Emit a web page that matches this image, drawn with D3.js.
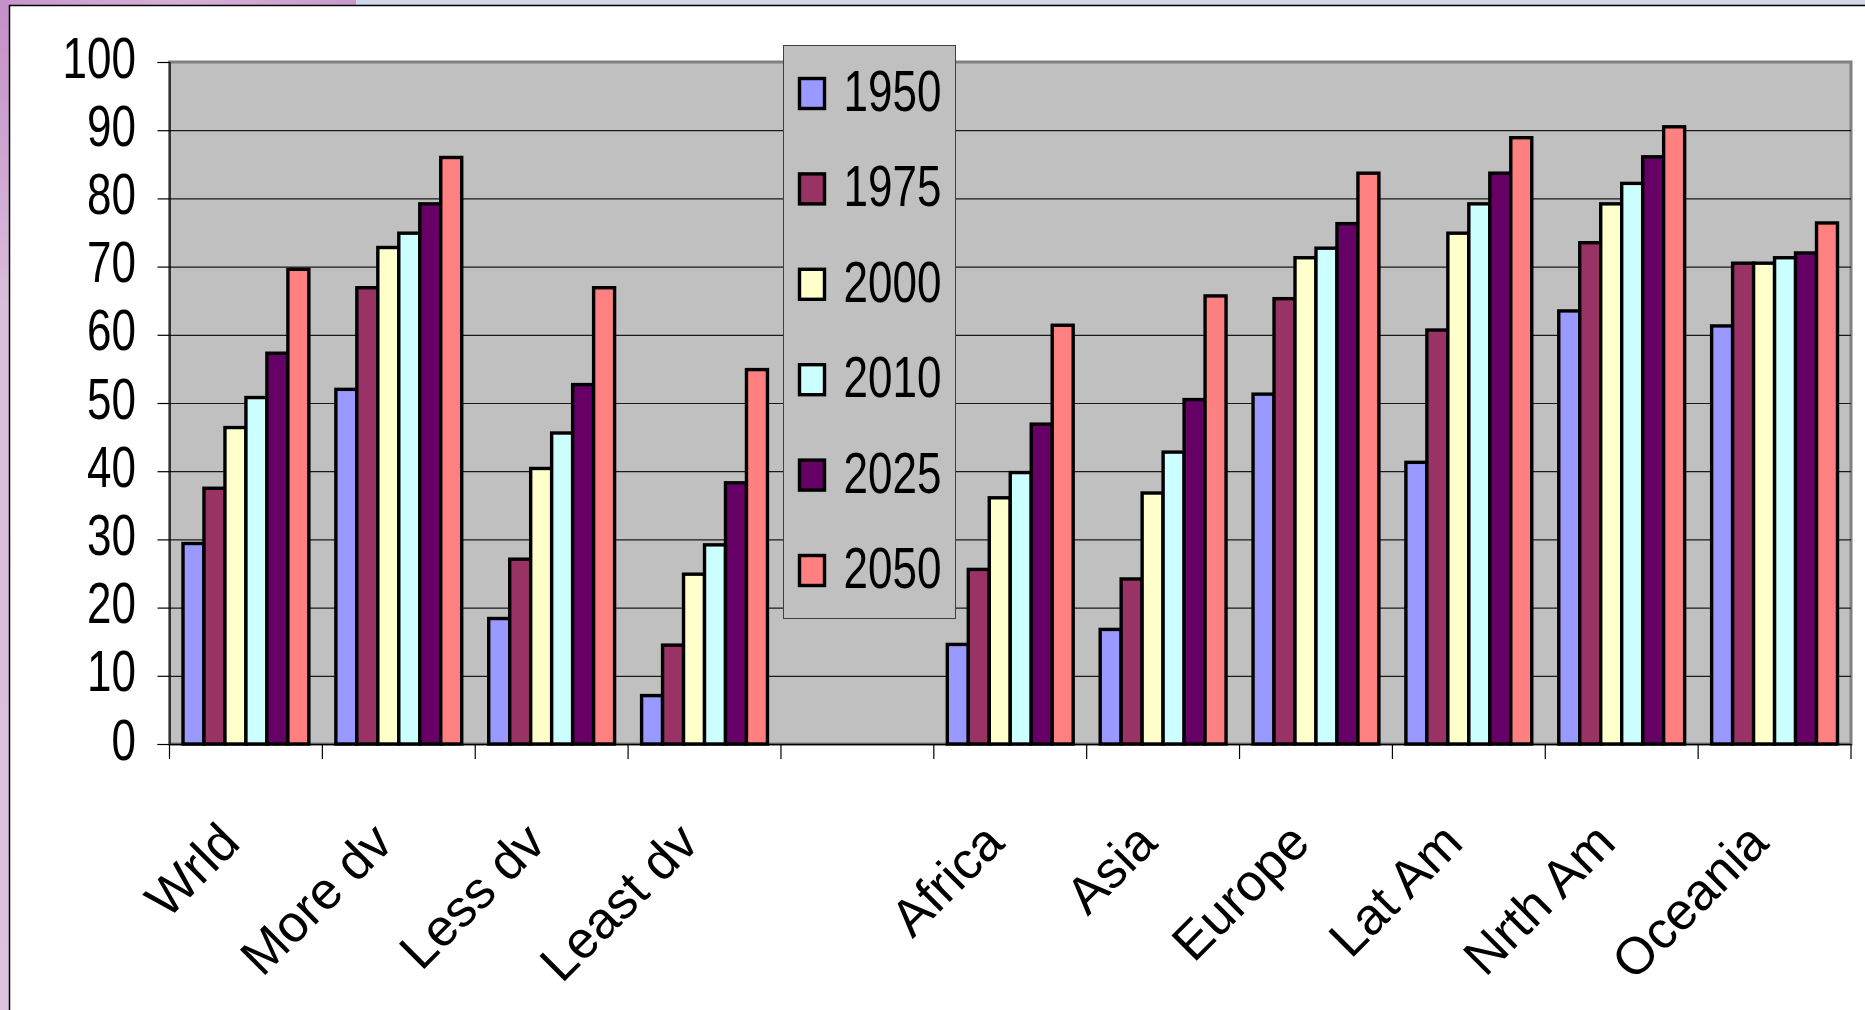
<!DOCTYPE html>
<html>
<head>
<meta charset="utf-8">
<script src="https://cdn.jsdelivr.net/npm/d3@7"></script>
<style>
  html, body { margin: 0; padding: 0; background: #fff; }
  svg { display: block; }
  text { font-family: "Liberation Sans", Arial, sans-serif; fill: #000; }
</style>
</head>
<body>
<svg width="1865" height="1010"></svg>
<script>
// categories (the empty one is the blank slot in the middle)
var categories = ["Wrld", "More dv", "Less dv", "Least dv", "", "Africa", "Asia", "Europe", "Lat Am", "Nrth Am", "Oceania"];
var years = ["1950", "1975", "2000", "2010", "2025", "2050"];
var colors = ["#9999FF", "#993366", "#FFFFCC", "#CCFFFF", "#660066", "#FF8080"];
var yTicks = [0, 10, 20, 30, 40, 50, 60, 70, 80, 90, 100];

// percent urban
var v1950 = [29.4, 52.0, 18.4, 7.1, null, 14.6, 16.8, 51.3, 41.3, 63.5, 61.3];
var v1975 = [37.5, 66.9, 27.1, 14.5, null, 25.6, 24.2, 65.3, 60.7, 73.5, 70.5];
var v2000 = [46.4, 72.8, 40.4, 24.9, null, 36.1, 36.8, 71.3, 74.9, 79.2, 70.5];
var v2010 = [50.8, 74.9, 45.6, 29.2, null, 39.8, 42.8, 72.7, 79.2, 82.2, 71.3];
var v2025 = [57.3, 79.2, 52.7, 38.3, null, 46.9, 50.5, 76.3, 83.7, 86.1, 72.0];
var v2050 = [69.6, 86.0, 66.9, 54.9, null, 61.4, 65.7, 83.7, 88.9, 90.5, 76.4];
var series = [v1950, v1975, v2000, v2010, v2025, v2050];

var svg = d3.select("svg");

var plotLeft = 169.5, plotRight = 1851, plotTop = 62, plotBottom = 744;

// page background bits (slide frame)
var defs = svg.append("defs");
var g1 = defs.append("linearGradient").attr("id", "side").attr("x1", 0).attr("y1", 0).attr("x2", 0).attr("y2", 1);
g1.append("stop").attr("offset", "0").attr("stop-color", "#c48ec8");
g1.append("stop").attr("offset", "0.3").attr("stop-color", "#d9bddb");
g1.append("stop").attr("offset", "1").attr("stop-color", "#dcc2dc");
var g2 = defs.append("linearGradient").attr("id", "topbar").attr("x1", 0).attr("y1", 0).attr("x2", 1).attr("y2", 0);
g2.append("stop").attr("offset", "0").attr("stop-color", "#c994cc");
g2.append("stop").attr("offset", "0.5").attr("stop-color", "#d6b0d8");
g2.append("stop").attr("offset", "1").attr("stop-color", "#c99acc");

svg.append("rect").attr("x", 0).attr("y", 0).attr("width", 1865).attr("height", 5).attr("fill", "#cfd6e8");
svg.append("rect").attr("x", 0).attr("y", 0).attr("width", 356).attr("height", 5).attr("fill", "url(#topbar)");
svg.append("rect").attr("x", 0).attr("y", 0).attr("width", 9).attr("height", 1010).attr("fill", "url(#side)");
svg.append("line").attr("x1", 9).attr("x2", 1865).attr("y1", 5.5).attr("y2", 5.5).attr("stroke", "#000").attr("stroke-width", 1.5);
svg.append("line").attr("x1", 9.5).attr("x2", 9.5).attr("y1", 5).attr("y2", 1010).attr("stroke", "#000").attr("stroke-width", 1.5);

// scales
var x = d3.scaleBand().domain(categories).range([plotLeft, plotRight]).padding(0);
var xInner = d3.scaleBand().domain(years).range([13.5, x.bandwidth() - 13.5]).padding(0);
var y = d3.scaleLinear().domain([0, 100]).range([plotBottom, plotTop]);

// plot area
svg.append("rect")
    .attr("x", plotLeft).attr("y", plotTop)
    .attr("width", plotRight - plotLeft).attr("height", plotBottom - plotTop)
    .attr("fill", "#C0C0C0")
    .attr("stroke", "#808080")
    .attr("stroke-width", 3);

// gridlines
svg.append("g")
    .selectAll("line")
    .data(yTicks.slice(1, -1))
    .enter().append("line")
    .attr("x1", plotLeft).attr("x2", plotRight)
    .attr("y1", function(d) { return y(d) + 0.5; })
    .attr("y2", function(d) { return y(d) + 0.5; })
    .attr("stroke", "#1a1a1a")
    .attr("stroke-width", 1.2);

// bars
var groups = svg.append("g")
    .selectAll("g")
    .data(years)
    .enter().append("g")
    .attr("fill", function(d, i) { return colors[i]; });

groups.selectAll("rect")
    .data(function(yr, i) {
        return categories.map(function(c, j) { return { cat: c, year: yr, value: series[i][j] }; })
            .filter(function(d) { return d.value != null; });
    })
    .enter().append("rect")
    .attr("x", function(d) { return x(d.cat) + xInner(d.year); })
    .attr("y", function(d) { return y(d.value); })
    .attr("width", xInner.bandwidth())
    .attr("height", function(d) { return y(0) - y(d.value); })
    .attr("stroke", "#000")
    .attr("stroke-width", 3.4)
    .attr("stroke-linejoin", "miter");

// y axis
var yAxis = svg.append("g")
    .attr("transform", "translate(" + plotLeft + ",0)")
    .call(d3.axisLeft(y).tickValues(yTicks).tickSize(12).tickFormat(""));
yAxis.select(".domain").attr("stroke", "#000").attr("stroke-width", 1.2);
yAxis.selectAll(".tick line").attr("stroke", "#000").attr("stroke-width", 1.2);

svg.append("g")
    .selectAll("text")
    .data(yTicks)
    .enter().append("text")
    .attr("transform", function(d) { return "translate(136," + (y(d) - 5) + ") scale(1,1.3)"; })
    .attr("text-anchor", "end")
    .attr("dy", "0.36em")
    .style("font-size", "44px")
    .text(function(d) { return d; });

// x axis
var xAxis = svg.append("g")
    .attr("transform", "translate(0," + plotBottom + ")")
    .call(d3.axisBottom(x).tickSize(0).tickFormat(""));
xAxis.select(".domain").attr("stroke", "#000").attr("stroke-width", 1.5);

var bounds = categories.map(function(c) { return x(c); }).concat([plotRight]);
svg.append("g")
    .selectAll("line")
    .data(bounds)
    .enter().append("line")
    .attr("x1", function(d) { return d; }).attr("x2", function(d) { return d; })
    .attr("y1", plotBottom).attr("y2", plotBottom + 15)
    .attr("stroke", "#000")
    .attr("stroke-width", 1.2);

svg.append("g")
    .selectAll("text")
    .data(categories)
    .enter().append("text")
    .attr("transform", function(d) {
        return "translate(" + (x(d) + x.bandwidth() / 2 - 17) + "," + (plotBottom + 88) + ") rotate(-45)";
    })
    .attr("text-anchor", "end")
    .attr("dy", "0.36em")
    .style("font-size", "52px")
    .text(function(d) { return d; });

// legend
var legend = svg.append("g").attr("transform", "translate(783.5,45.5)");
legend.append("rect")
    .attr("width", 172).attr("height", 573)
    .attr("fill", "#C0C0C0")
    .attr("stroke", "#404040")
    .attr("stroke-width", 1);

var item = legend.selectAll("g.item")
    .data(years)
    .enter().append("g")
    .attr("class", "item")
    .attr("transform", function(d, i) { return "translate(0," + (48 + i * 95.4) + ")"; });

item.append("rect")
    .attr("x", 16).attr("y", -15)
    .attr("width", 25).attr("height", 30)
    .attr("fill", function(d, i) { return colors[i]; })
    .attr("stroke", "#000")
    .attr("stroke-width", 3.4);

item.append("text")
    .attr("transform", "translate(60,-3) scale(1,1.3)")
    .attr("dy", "0.36em")
    .style("font-size", "44px")
    .text(function(d) { return d; });
</script>
</body>
</html>
